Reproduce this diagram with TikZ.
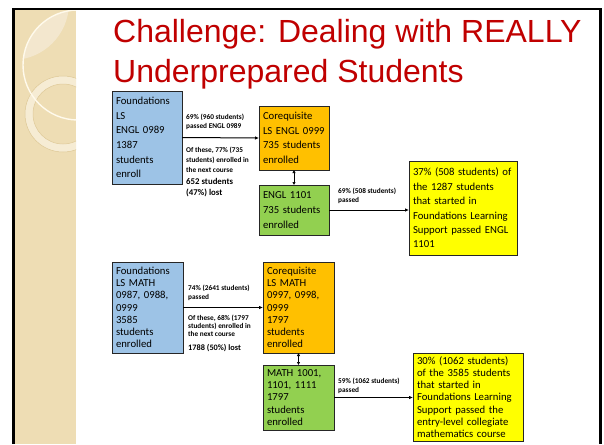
\documentclass[tikz,border=0pt]{standalone}
\usepackage{fontspec}
\setmainfont{Carlito}
\newfontfamily\titlefont{Liberation Sans}
\usetikzlibrary{arrows.meta}
\definecolor{titlered}{RGB}{192,0,0}
\definecolor{lsblue}{RGB}{157,195,230}
\definecolor{coreq}{RGB}{255,192,0}
\definecolor{gatew}{RGB}{146,208,80}
\definecolor{result}{RGB}{255,255,0}
\definecolor{stripc}{RGB}{238,221,180}
\definecolor{lensc}{RGB}{243,231,206}
\definecolor{ringc}{RGB}{246,236,212}
\definecolor{ringedge}{RGB}{222,200,150}
\definecolor{creamc}{RGB}{255,250,236}
\begin{document}
\begin{tikzpicture}[x=1pt,y=-1pt,
 box/.style={draw=black!85, line width=0.8pt, anchor=north west, inner xsep=4pt, inner ysep=0pt, outer sep=0pt, align=left},
 engl/.style={box, font=\fontsize{10.7}{14.7}\selectfont},
 mathb/.style={box, font=\fontsize{10.7}{12.2}\selectfont},
 lbl/.style={anchor=west, inner sep=0pt, align=left},
 arr/.style={line width=1pt, -{Latex[length=4pt,width=3.5pt]}},
 dbl/.style={line width=1pt, {Latex[length=3pt,width=3.5pt]}-{Latex[length=3pt,width=3.5pt]}}]
\useasboundingbox (0,0) rectangle (604,444);
\fill[white] (0,0) rectangle (604,444);
% decorative strip
\begin{scope}
\clip (15,10) rectangle (76,444);
\fill[stripc] (15,10) rectangle (76,444);
\begin{scope}
\clip (78,65) circle (55pt);
\fill[lensc] (12,3) circle (57pt);
\end{scope}
\fill[ringc, even odd rule] (63,114) circle (38pt) (63,114) circle (30pt);
\draw[ringedge, line width=0.5pt] (63,114) circle (38pt) (63,114) circle (30pt);
\draw[creamc, line width=1.4pt] (78,65) circle (55pt);
\end{scope}
% frame
\fill[black] (12,8) rectangle (15,444);
\fill[black] (12,8) rectangle (602,10);
\fill[black] (599,8) rectangle (602,444);
% title
\node[anchor=base west, inner sep=0pt, text=titlered, font=\titlefont\fontsize{32}{38}\selectfont] (t1) at (113,43) {Challenge: Dealing with REALLY};
\node[anchor=base west, inner sep=0pt, text=titlered, font=\titlefont\fontsize{32}{38}\selectfont] (t2) at (113,82) {Underprepared Students};
% ENGL boxes
\node[engl, fill=lsblue, text width=62pt, minimum height=93pt] (fe) at (112,91) {Foundations\\LS\\ENGL 0989\\1387\\students\\enroll};
\node[engl, fill=coreq, text width=62pt, minimum height=64pt] (ce) at (259,106) {Corequisite\\LS ENGL 0999\\735 students\\enrolled};
\node[engl, fill=gatew, text width=62pt, minimum height=50pt] (ge) at (259,185) {ENGL 1101\\735 students\\enrolled};
\node[box, fill=result, text width=100pt, minimum height=94pt, font=\fontsize{10.7}{14.4}\selectfont] (re) at (409,161) {37\% (508 students) of\\the 1287 students\\that started in\\Foundations Learning\\Support passed ENGL\\1101};
% MATH boxes
\node[mathb, fill=lsblue, text width=63pt, minimum height=91pt] (fm) at (112,262) {Foundations\\LS MATH\\0987, 0988,\\0999\\3585\\students\\enrolled};
\node[mathb, fill=coreq, text width=63pt, minimum height=91pt] (cm) at (263,262) {Corequisite\\LS MATH\\0997, 0998,\\0999\\1797\\students\\enrolled};
\node[mathb, fill=gatew, text width=63pt, minimum height=65pt] (gm) at (263,365) {MATH 1001,\\1101, 1111\\1797\\students\\enrolled};
\node[mathb, fill=result, text width=102pt, minimum height=88pt] (rm) at (413,353) {30\% (1062 students)\\of the 3585 students\\that started in\\Foundations Learning\\Support passed the\\entry-level collegiate\\mathematics course};
% connectors
\draw[arr] (fe.east) -- (ce.west);
\draw[dbl] (ce.south) -- (ge.north);
\draw[arr] (ge.east) -- (ge.east -| re.west);
\draw[arr] (fm.east) -- (cm.west);
\draw[dbl] (cm.south) -- (gm.north);
\draw[arr] (gm.east) -- (gm.east -| rm.west);
% labels
\node[lbl, font=\bfseries\fontsize{7.3}{9}\selectfont] (l1) at (186,121.5) {69\% (960 students)\\passed ENGL 0989};
\node[lbl, font=\bfseries\fontsize{7.3}{10}\selectfont] (l2) at (186,160) {Of these, 77\% (735\\students) enrolled in\\the next course};
\node[lbl, font=\bfseries\fontsize{8.8}{10.5}\selectfont] (l3) at (186,187.5) {652 students\\(47\%) lost};
\node[lbl, font=\bfseries\fontsize{7.3}{9}\selectfont] (l4) at (338,195.5) {69\% (508 students)\\passed};
\node[lbl, font=\bfseries\fontsize{7.3}{8.3}\selectfont] (l5) at (188,293) {74\% (2641 students)\\passed};
\node[lbl, font=\bfseries\fontsize{7.3}{8.3}\selectfont] (l6) at (188,326) {Of these, 68\% (1797\\students) enrolled in\\the next course};
\node[lbl, font=\bfseries\fontsize{8.3}{10}\selectfont] (l7) at (188,348) {1788 (50\%) lost};
\node[lbl, font=\bfseries\fontsize{7.3}{8.3}\selectfont] (l8) at (338,386) {59\% (1062 students)\\passed};
\end{tikzpicture}
\end{document}
